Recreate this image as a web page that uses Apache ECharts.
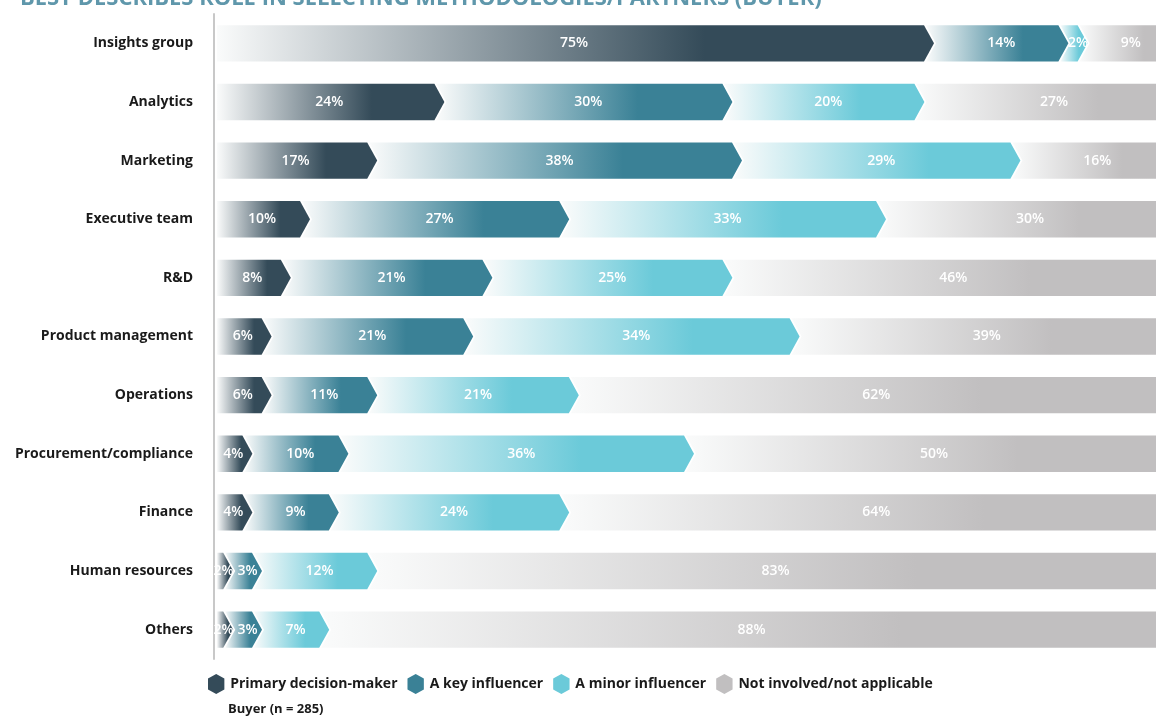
<!DOCTYPE html>
<html>
<head>
<meta charset="utf-8">
<script src="https://cdn.jsdelivr.net/npm/echarts@6/dist/echarts.min.js"></script>
<style>
  html, body { margin: 0; background: #fff; }
  #chart { width: 1156px; height: 716px; }
</style>
</head>
<body>
<div id="chart"></div>
<script>
// categories, top to bottom
const categories = [
  'Insights group', 'Analytics', 'Marketing', 'Executive team', 'R&D',
  'Product management', 'Operations', 'Procurement/compliance', 'Finance',
  'Human resources', 'Others'
];
const roles = ['Primary decision-maker', 'A key influencer', 'A minor influencer', 'Not involved/not applicable'];

// shares in %
const primary = [75, 24, 17, 10, 8, 6, 6, 4, 4, 2, 2];
const keyInfluencer = [14, 30, 38, 27, 21, 21, 11, 10, 9, 3, 3];
const minorInfluencer = [2, 20, 29, 33, 25, 34, 21, 36, 24, 12, 7];
const notInvolved = [9, 27, 16, 30, 46, 39, 62, 50, 64, 83, 88];

const colors = ['#344b59', '#3a8196', '#6bcad9', '#c1bfc0'];
const FONT = '"Open Sans"';

const rows = [primary, keyInfluencer, minorInfluencer, notInvolved];

function seriesData(k) {
  return categories.map((c, i) => {
    let start = 0;
    for (let j = 0; j < k; j++) start += rows[j][i];
    return [start, start + rows[k][i], i, rows[k][i], k];
  });
}

// chevron shaped segment with white -> colour gradient
function renderSegment(params, api) {
  const s = api.value(0), e = api.value(1), row = api.value(2);
  const pct = api.value(3), k = api.value(4);
  const p0 = api.coord([s, row]);
  const p1 = api.coord([e, row]);
  const h = api.size([0, 1])[1] * 0.62;
  const mid = p0[1], top = mid - h / 2, bot = mid + h / 2;
  const tip = 10, gap = 2;
  const xs = p0[0], xe = p1[0];
  let pts;
  if (k === 0) {
    pts = [[xs + 3, top], [xe - tip, top], [xe, mid], [xe - tip, bot], [xs + 3, bot]];
  } else {
    pts = [[xs - tip + gap, top], [xe - tip, top], [xe, mid], [xe - tip, bot],
           [xs - tip + gap, bot], [xs + gap, mid]];
  }
  const color = colors[k];
  return {
    type: 'group',
    children: [
      {
        type: 'polygon',
        shape: { points: pts },
        style: {
          fill: new echarts.graphic.LinearGradient(0, 0, 1, 0, [
            { offset: 0, color: '#fafbfb' },
            { offset: 0.68, color: color },
            { offset: 1, color: color }
          ])
        }
      },
      {
        type: 'text',
        x: (xs + xe) / 2,
        y: mid,
        style: {
          text: pct + '%',
          fill: '#ffffff',
          fontSize: 14,
          fontWeight: 600,
          fontFamily: FONT,
          align: 'center',
          verticalAlign: 'middle'
        }
      }
    ]
  };
}

const chart = echarts.init(document.getElementById('chart'));

const option = {
  animation: false,
  graphic: [
    {
      type: 'text',
      left: 20,
      top: -12,
      style: {
        text: 'BEST DESCRIBES ROLE IN SELECTING METHODOLOGIES/PARTNERS (BUYER)',
        fill: '#5f97ab',
        fontSize: 22,
        fontWeight: 'bold',
        fontFamily: FONT
      }
    },
    {
      type: 'text',
      left: 228,
      top: 703,
      style: {
        text: 'Buyer (n = 285)',
        fill: '#1a1a1a',
        fontSize: 13,
        fontWeight: 'bold',
        fontFamily: FONT
      }
    }
  ],
  legend: {
    data: roles,
    left: 203,
    top: 669,
    itemWidth: 18,
    itemHeight: 20,
    itemGap: 10,
    icon: 'path://M10,0 L19,5 L19,17 L10,22 L1,17 L1,5 Z',
    textStyle: { color: '#1a1a1a', fontSize: 14, fontWeight: 'bold', fontFamily: FONT }
  },
  grid: { left: 214, right: 0, top: 14, bottom: 57, containLabel: false },
  xAxis: {
    type: 'value',
    min: 0,
    max: 98.125,
    show: false
  },
  yAxis: {
    type: 'category',
    data: categories,
    inverse: true,
    axisLine: { show: true, lineStyle: { color: '#c8c8c8', width: 2 } },
    axisTick: { show: false },
    axisLabel: {
      margin: 21,
      color: '#1a1a1a',
      fontSize: 14,
      fontWeight: 'bold',
      fontFamily: FONT
    }
  },
  series: roles.map((name, k) => ({
    name: name,
    type: 'custom',
    itemStyle: { color: colors[k] },
    encode: { x: [0, 1], y: 2 },
    renderItem: renderSegment,
    data: seriesData(k)
  }))
};

chart.setOption(option);
</script>
</body>
</html>
